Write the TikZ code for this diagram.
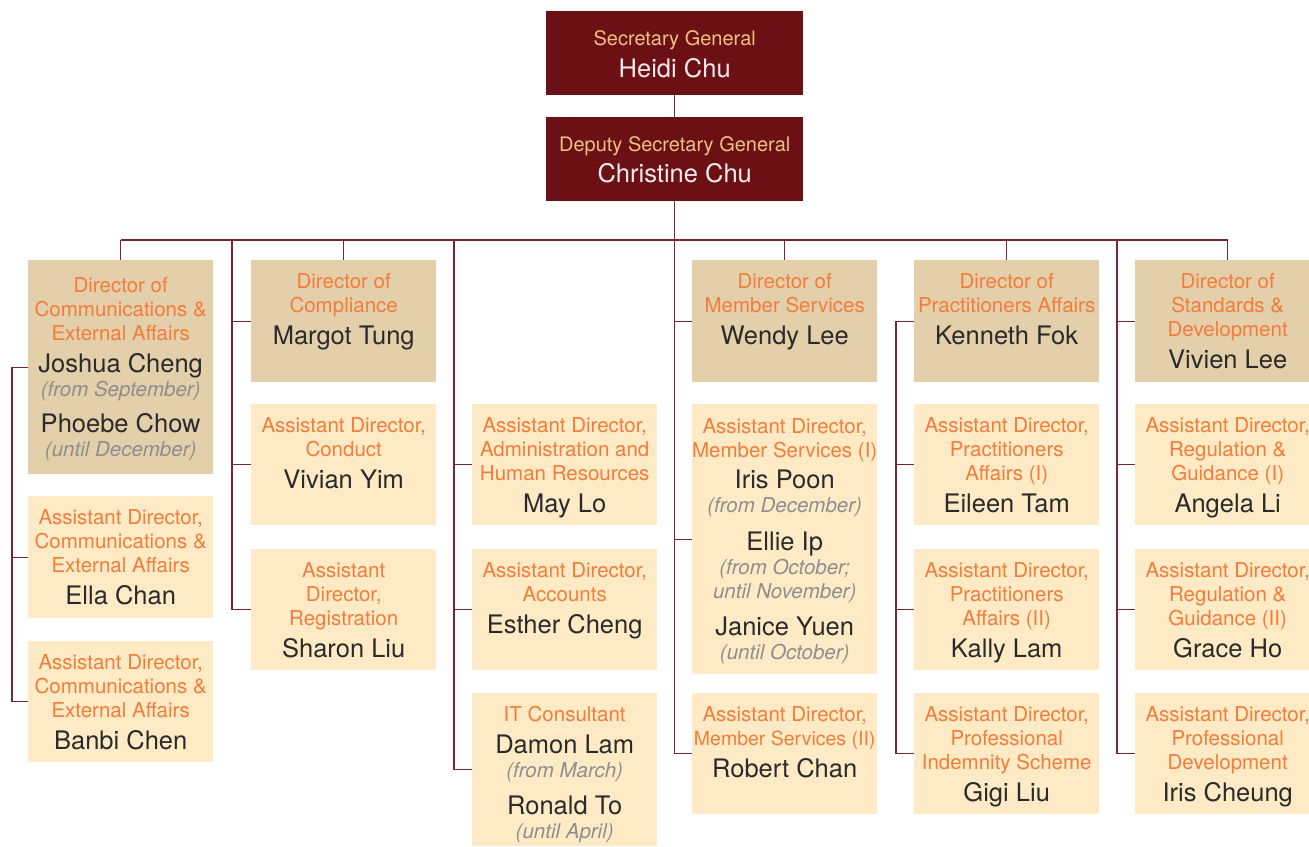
\documentclass[tikz,border=0pt]{standalone}
\usepackage{fontspec}
\setmainfont{TeX Gyre Heros}
\usepackage{xcolor}
\usetikzlibrary{calc,positioning}
\definecolor{orgmaroon}{HTML}{6B1116}
\definecolor{orgline}{HTML}{7A2730}
\definecolor{orgtan}{HTML}{E3CFAA}
\definecolor{orgcream}{HTML}{FEEBC6}
\definecolor{orgorange}{HTML}{F37C3A}
\definecolor{orggold}{HTML}{EFC07F}
\definecolor{orgwhite}{HTML}{F4EAEA}
\definecolor{orgname}{HTML}{2A2A2A}
\definecolor{orggray}{HTML}{8E8E8E}
\newcommand{\who}[1]{{\fontsize{25.5}{24}\selectfont\color{orgname}#1}}
\newcommand{\when}[1]{{\fontsize{20.5}{24}\selectfont\itshape\color{orggray}#1}}
\newcommand{\topwho}[1]{{\fontsize{25.5}{24}\selectfont\color{orgwhite}#1}}

\begin{document}
\begin{tikzpicture}[x=1pt,y=-1pt]
  \tikzset{conn/.style={draw=orgline,line width=1.3pt},
    topbox/.style={fill=orgmaroon,anchor=north west,inner sep=0,minimum width=257,minimum height=#1},
    dirbox/.style={fill=orgtan,anchor=north west,inner sep=0,minimum width=185,minimum height=#1},
    asstbox/.style={fill=orgcream,anchor=north west,inner sep=0,minimum width=185,minimum height=#1},
    toptext/.style={anchor=north,inner sep=0,align=center,text=orggold,font=\fontsize{20}{24}\selectfont},
    boxtext/.style={anchor=north,inner sep=0,align=center,text=orgorange,font=\fontsize{20.5}{24}\selectfont}}%
  \useasboundingbox (0,0) rectangle (1309,846);

  % top of the tree
  \node[topbox=84] (sg) at (546,11) {};
  \node[toptext] (sgt) at ([yshift=-19.5]sg.north) {Secretary General\\[8pt]\topwho{Heidi Chu}};
  \node[topbox=84] (dsg) at (546,117) {};
  \node[toptext] (dsgt) at ([yshift=-19.5]dsg.north) {Deputy Secretary General\\[7pt]\topwho{Christine Chu}};

  % column 1
  \node[dirbox=214] (d1) at (28,260) {};
  \node[boxtext] (d1t) at ([yshift=-17]d1.north) {Director of\\Communications \&\\External Affairs\\[8pt]\who{Joshua Cheng}\\\when{(from September)}\\[12pt]\who{Phoebe Chow}\\\when{(until December)}};
  \node[asstbox=122] (a1a) at (28,496) {};
  \node[boxtext] (a1at) at ([yshift=-13]a1a.north) {Assistant Director,\\Communications \&\\External Affairs\\[8pt]\who{Ella Chan}};
  \node[asstbox=121] (a1b) at (28,641) {};
  \node[boxtext] (a1bt) at ([yshift=-13]a1b.north) {Assistant Director,\\Communications \&\\External Affairs\\[8pt]\who{Banbi Chen}};

  % column 2
  \node[dirbox=122] (d2) at (251,260) {};
  \node[boxtext] (d2t) at ([yshift=-13]d2.north) {Director of\\Compliance\\[8pt]\who{Margot Tung}};
  \node[asstbox=121] (a2a) at (251,404) {};
  \node[boxtext] (a2at) at ([yshift=-13]a2a.north) {Assistant Director,\\Conduct\\[8pt]\who{Vivian Yim}};
  \node[asstbox=121] (a2b) at (251,549) {};
  \node[boxtext] (a2bt) at ([yshift=-13]a2b.north) {Assistant\\Director,\\Registration\\[8pt]\who{Sharon Liu}};

  % column 3
  \node[asstbox=121] (a3a) at (472,404) {};
  \node[boxtext] (a3at) at ([yshift=-13]a3a.north) {Assistant Director,\\Administration and\\Human Resources\\[8pt]\who{May Lo}};
  \node[asstbox=121] (a3b) at (472,549) {};
  \node[boxtext] (a3bt) at ([yshift=-13]a3b.north) {Assistant Director,\\Accounts\\[8pt]\who{Esther Cheng}};
  \node[asstbox=153] (a3c) at (472,693) {};
  \node[boxtext] (a3ct) at ([yshift=-13]a3c.north) {IT Consultant\\[8pt]\who{Damon Lam}\\\when{(from March)}\\[13pt]\who{Ronald To}\\\when{(until April)}};

  % column 4
  \node[dirbox=122] (d4) at (692,260) {};
  \node[boxtext] (d4t) at ([yshift=-13]d4.north) {Director of\\Member Services\\[8pt]\who{Wendy Lee}};
  \node[asstbox=270] (a4a) at (692,404) {};
  \node[boxtext] (a4at) at ([yshift=-14]a4a.north) {Assistant Director,\\Member Services (I)\\[7pt]\who{Iris Poon}\\\when{(from December)}\\[14pt]\who{Ellie Ip}\\\when{(from October;}\\\when{until November)}\\[13pt]\who{Janice Yuen}\\\when{(until October)}};
  \node[asstbox=121] (a4b) at (692,693) {};
  \node[boxtext] (a4bt) at ([yshift=-13]a4b.north) {Assistant Director,\\{\fontsize{19.5}{24}\selectfont Member Services (II)}\\[8pt]\who{Robert Chan}};

  % column 5
  \node[dirbox=122] (d5) at (914,260) {};
  \node[boxtext] (d5t) at ([yshift=-13]d5.north) {Director of\\Practitioners Affairs\\[8pt]\who{Kenneth Fok}};
  \node[asstbox=121] (a5a) at (914,404) {};
  \node[boxtext] (a5at) at ([yshift=-13]a5a.north) {Assistant Director,\\Practitioners\\Affairs (I)\\[8pt]\who{Eileen Tam}};
  \node[asstbox=121] (a5b) at (914,549) {};
  \node[boxtext] (a5bt) at ([yshift=-13]a5b.north) {Assistant Director,\\Practitioners\\Affairs (II)\\[8pt]\who{Kally Lam}};
  \node[asstbox=121] (a5c) at (914,693) {};
  \node[boxtext] (a5ct) at ([yshift=-13]a5c.north) {Assistant Director,\\Professional\\Indemnity Scheme\\[8pt]\who{Gigi Liu}};

  % column 6
  \node[dirbox=122] (d6) at (1135,260) {};
  \node[boxtext] (d6t) at ([yshift=-13]d6.north) {Director of\\Standards \&\\Development\\[8pt]\who{Vivien Lee}};
  \node[asstbox=121] (a6a) at (1135,404) {};
  \node[boxtext] (a6at) at ([yshift=-13]a6a.north) {Assistant Director,\\Regulation \&\\Guidance (I)\\[8pt]\who{Angela Li}};
  \node[asstbox=121] (a6b) at (1135,549) {};
  \node[boxtext] (a6bt) at ([yshift=-13]a6b.north) {Assistant Director,\\Regulation \&\\Guidance (II)\\[8pt]\who{Grace Ho}};
  \node[asstbox=121] (a6c) at (1135,693) {};
  \node[boxtext] (a6ct) at ([yshift=-13]a6c.north) {Assistant Director,\\Professional\\Development\\[8pt]\who{Iris Cheung}};

  % connectors
  \coordinate (bus) at (674.5,240);
  \coordinate (s1) at ([xshift=-16]d1.west);
  \coordinate (s2) at ([xshift=-19]d2.west |- bus);
  \coordinate (s3) at ([xshift=-18]a3a.west |- bus);
  \coordinate (s5) at ([xshift=-18]d5.west);
  \coordinate (s6) at ([xshift=-18]d6.west |- bus);
  \draw[conn] (sg.south) -- (dsg.north);
  \draw[conn] (d1.north |- bus) -- (d6.north |- bus);
  \foreach \d in {d1,d2,d4,d5,d6}
    \draw[conn] (\d.north |- bus) -- (\d.north);
  \foreach \b in {d4,a4a,a4b}
    \draw[conn] (dsg.south) |- (\b.west);
  \draw[conn] (d1.west) -- (s1);
  \foreach \b in {a1a,a1b}
    \draw[conn] (s1) |- (\b.west);
  \foreach \b in {d2,a2a,a2b}
    \draw[conn] (s2) |- (\b.west);
  \foreach \b in {a3a,a3b,a3c}
    \draw[conn] (s3) |- (\b.west);
  \draw[conn] (d5.west) -- (s5);
  \foreach \b in {a5a,a5b,a5c}
    \draw[conn] (s5) |- (\b.west);
  \foreach \b in {d6,a6a,a6b,a6c}
    \draw[conn] (s6) |- (\b.west);
\end{tikzpicture}
\end{document}
